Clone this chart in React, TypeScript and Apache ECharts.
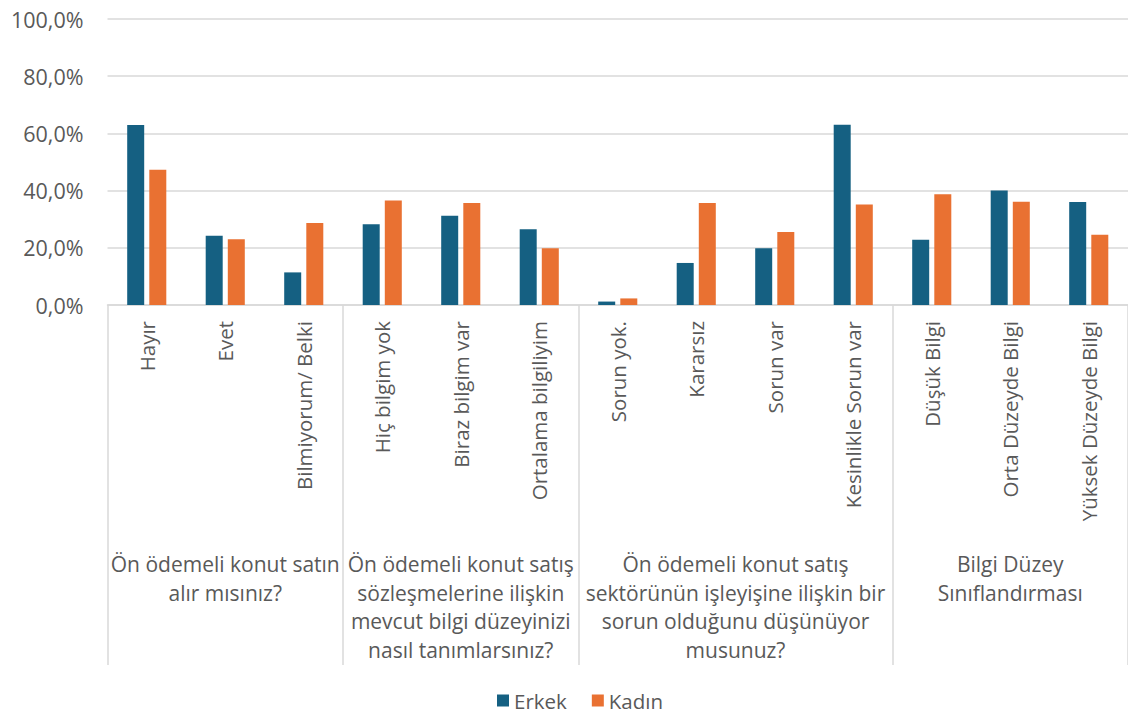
import React, { useEffect, useRef } from "react";
import * as echarts from "echarts";

const categories = [
  "Hayır",
  "Evet",
  "Bilmiyorum/ Belki",
  "Hiç bilgim yok",
  "Biraz bilgim var",
  "Ortalama bilgiliyim",
  "Sorun yok.",
  "Kararsız",
  "Sorun var",
  "Kesinlikle Sorun var",
  "Düşük Bilgi",
  "Orta Düzeyde Bilgi",
  "Yüksek Düzeyde Bilgi",
];

const erkek = [62.9, 24.2, 11.4, 28.2, 31.2, 26.5, 1.2, 14.7, 19.8, 63.0, 22.8, 40.0, 36.0];
const kadin = [47.3, 23.0, 28.7, 36.5, 35.7, 19.8, 2.3, 35.7, 25.5, 35.1, 38.7, 36.1, 24.6];

const groupLabels = [
  "Ön ödemeli konut satın\nalır mısınız?",
  "Ön ödemeli konut satış\nsözleşmelerine ilişkin\nmevcut bilgi düzeyinizi\nnasıl tanımlarsınız?",
  "Ön ödemeli konut satış\nsektörünün işleyişine ilişkin bir\nsorun olduğunu düşünüyor\nmusunuz?",
  "Bilgi Düzey\nSınıflandırması",
];
const groupSizes = [3, 3, 4, 3];

const yTicks = [0, 20, 40, 60, 80, 100];

const FONT = "'Open Sans', 'Noto Sans', sans-serif";
const TEXT = "#595959";
const LINE = "#d9d9d9";

export default function App() {
  const ref = useRef<HTMLDivElement>(null);

  useEffect(() => {
    if (!ref.current) return;
    const chart = echarts.init(ref.current, null, { renderer: "svg" });

    // category indices where a new group begins (left edge of that category)
    const groupStarts: number[] = [];
    let acc = 0;
    groupSizes.forEach((s) => {
      groupStarts.push(acc);
      acc += s;
    });

    chart.setOption({
      animation: false,
      backgroundColor: "#ffffff",
      textStyle: { fontFamily: FONT },
      grid: { left: 107.5, right: 0, top: 19, bottom: 408, containLabel: false },
      legend: {
        top: 685,
        left: 492,
        itemWidth: 12,
        itemHeight: 12,
        itemGap: 25,
        icon: "rect",
        textStyle: { fontSize: 20.5, color: TEXT, fontFamily: FONT },
        data: ["Erkek", "Kadın"],
      },
      xAxis: {
        type: "category",
        data: categories,
        axisLine: { show: true, lineStyle: { color: LINE, width: 1.5 } },
        axisTick: {
          show: true,
          interval: (i: number) => groupStarts.includes(i),
          length: 360,
          lineStyle: { color: LINE, width: 1.5 },
        },
        axisLabel: {
          interval: 0,
          rotate: 90,
          margin: 16,
          fontSize: 20.5,
          color: TEXT,
          fontFamily: FONT,
        },
      },
      yAxis: {
        type: "value",
        min: 0,
        max: 100,
        interval: 20,
        axisLine: { show: false },
        axisTick: { show: false },
        splitLine: { lineStyle: { color: LINE, width: 1.5 } },
        axisLabel: {
          margin: 24,
          fontSize: 21.5,
          color: TEXT,
          fontFamily: FONT,
          customValues: yTicks,
          formatter: (v: number) => v.toFixed(1).replace(".", ",") + "%",
        },
      },
      series: [
        {
          name: "Erkek",
          type: "bar",
          data: erkek,
          barWidth: 17,
          barGap: "30%",
          itemStyle: { color: "#156082" },
        },
        {
          name: "Kadın",
          type: "bar",
          data: kadin,
          barWidth: 17,
          itemStyle: { color: "#E97132" },
        },
      ],
    });

    // group captions centred under each block of categories
    const texts = groupLabels.map((label, gi) => {
      const first = groupStarts[gi];
      const last = first + groupSizes[gi] - 1;
      const x0 = chart.convertToPixel({ xAxisIndex: 0 }, first) as number;
      const x1 = chart.convertToPixel({ xAxisIndex: 0 }, last) as number;
      return {
        type: "text",
        x: (x0 + x1) / 2,
        y: 550,
        style: {
          text: label,
          fill: TEXT,
          font: `21px ${FONT}`,
          textAlign: "center",
          textVerticalAlign: "top",
          lineHeight: 28.5,
        },
      };
    });
    chart.setOption({ graphic: texts });

    return () => chart.dispose();
  }, []);

  return (
    <div
      ref={ref}
      style={{ position: "fixed", left: 0, top: 0, width: 1128, height: 713, background: "#fff" }}
    />
  );
}
